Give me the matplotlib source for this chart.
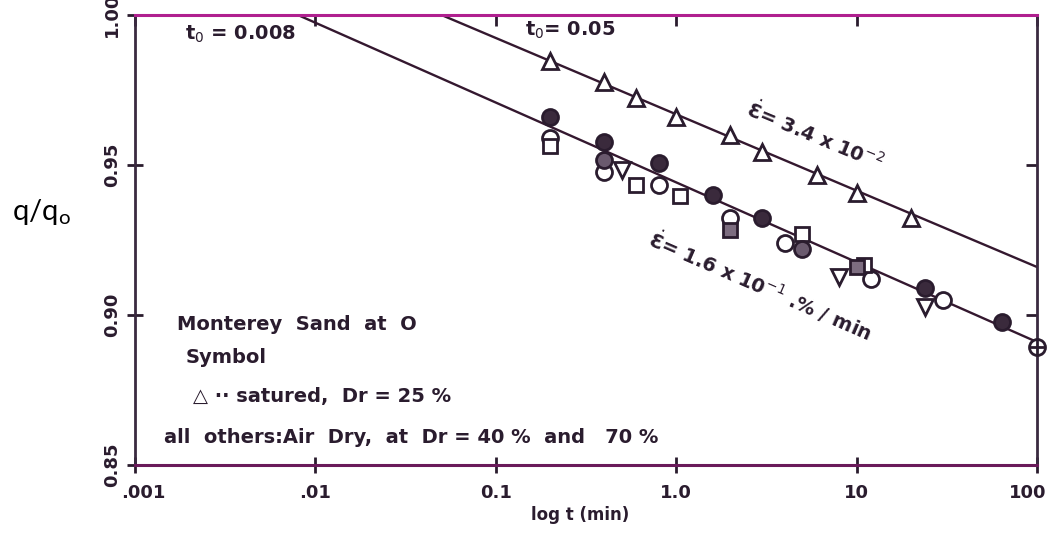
import numpy as np
import matplotlib
matplotlib.use("Agg")
import matplotlib.pyplot as plt
import matplotlib.transforms as mtransforms

# creep test results, q/qo against time (min)
# saturated sample, upper line
tri_sat_t = [0.2, 0.4, 0.6, 1.0, 2.0, 3.0, 6.0, 10.0, 20.0]
tri_sat_q = [0.9847, 0.9777, 0.9723, 0.966, 0.960, 0.9543, 0.9467, 0.9407, 0.9323]

# air dry samples, lower line
filled_t = [0.2, 0.4, 0.8, 1.6, 3.0, 24.0, 64.0]
filled_q = [0.966, 0.9577, 0.9507, 0.940, 0.9323, 0.909, 0.8977]
open_t = [0.2, 0.4, 0.8, 2.0, 4.0, 12.0, 30.0]
open_q = [0.959, 0.9477, 0.9433, 0.9323, 0.924, 0.912, 0.905]
sq_t = [0.2, 0.6, 1.05, 5.0, 11.0]
sq_q = [0.9563, 0.9433, 0.9397, 0.927, 0.9167]
xsq_t = [2.0, 10.0]
xsq_q = [0.9283, 0.916]
inv_t = [0.5, 8.0, 24.0]
inv_q = [0.9483, 0.9127, 0.9027]
dot_t = [0.4, 5.0]
dot_q = [0.9517, 0.922]
cross_t = [100.0]
cross_q = [0.8893]

# fitted lines (start at t0 where q/qo = 1)
upper_t = [0.05, 100.0]
upper_q = [1.0, 0.916]
lower_t = [0.008, 100.0]
lower_q = [1.0, 0.891]

xticks = [0.001, 0.01, 0.1, 1.0, 10.0, 100.0]
xlabels = [".001", ".01", "0.1", "1.0", "10", "100"]
yticks = [0.85, 0.90, 0.95, 1.00]
ylabels = ["0.85", "0.90", "0.95", "1.00"]

ink = "#2a1c2e"
line_c = "#34182f"

fig = plt.figure(figsize=(10.52, 5.39), dpi=100)
ax = fig.add_axes([0.1283, 0.1373, 0.8574, 0.8349])
ax.set_xscale("log")
ax.set_xlim(0.001, 100)
ax.set_ylim(0.85, 1.00)

ax.plot(upper_t, upper_q, color=line_c, lw=1.7, zorder=2)
ax.plot(lower_t, lower_q, color=line_c, lw=1.7, zorder=2)

mk = dict(linestyle="none", markeredgewidth=2.0, markeredgecolor=ink, zorder=3, clip_on=False)
ax.plot(tri_sat_t, tri_sat_q, marker="^", ms=12, mfc="white", **mk)
ax.plot(open_t, open_q, marker="o", ms=11.5, mfc="white", **mk)
ax.plot(sq_t, sq_q, marker="s", ms=10.5, mfc="white", **mk)
ax.plot(inv_t, inv_q, marker="v", ms=11.5, mfc="white", **mk)
ax.plot(xsq_t, xsq_q, marker="s", ms=10.5, mfc="#7d6d80", **mk)
ax.plot(dot_t, dot_q, marker="o", ms=11.5, mfc="#6a5a6e", **mk)
ax.plot(filled_t, filled_q, marker="o", ms=11.5, mfc="#3a2a3c", **mk)
ax.plot(cross_t, cross_q, marker="o", ms=11.5, mfc="white", **mk)
ax.plot(cross_t, cross_q, marker="+", ms=11.5, **mk)

# frame
for side in ["left", "right"]:
    ax.spines[side].set_color("#3a2a40")
    ax.spines[side].set_linewidth(2.0)
ax.spines["top"].set_color("#b0208f")
ax.spines["top"].set_linewidth(2.2)
ax.spines["bottom"].set_color("#6a1a5a")
ax.spines["bottom"].set_linewidth(2.2)

ax.set_xticks(xticks)
ax.set_xticklabels(xlabels)
ax.xaxis.set_minor_locator(matplotlib.ticker.NullLocator())
ax.set_yticks(yticks)
ax.set_yticklabels(ylabels, rotation=90, va="center")
ax.tick_params(axis="x", direction="inout", length=12, width=2, color=ink,
               labelsize=13, pad=8, labelcolor=ink)
ax.tick_params(axis="y", direction="inout", length=12, width=2, color=ink,
               labelsize=13, pad=4, labelcolor=ink)
for lab in ax.get_xticklabels() + ax.get_yticklabels():
    lab.set_fontweight("bold")
# pull the end labels in a little
ax.get_xticklabels()[0].set_transform(ax.get_xticklabels()[0].get_transform() +
                                      mtransforms.ScaledTranslation(6 / 72, 0, fig.dpi_scale_trans))
ax.get_xticklabels()[-1].set_transform(ax.get_xticklabels()[-1].get_transform() +
                                       mtransforms.ScaledTranslation(-7 / 72, 0, fig.dpi_scale_trans))

# inward ticks on top and right
top = ax.secondary_xaxis("top")
top.set_xticks(xticks)
top.xaxis.set_minor_locator(matplotlib.ticker.NullLocator())
top.tick_params(direction="in", length=8, width=2, color=ink, labeltop=False)
top.spines["top"].set_visible(False)
right = ax.secondary_yaxis("right")
right.set_yticks([0.90, 0.95])
right.tick_params(direction="in", length=8, width=2, color=ink, labelright=False)
right.spines["right"].set_visible(False)

fig.text(0.505, 0.035, "log t (min)", fontsize=12, fontweight="bold", color=ink)
fig.text(0.011, 0.592, r"q/q$_{\mathregular{o}}$", fontsize=21, family="Lato", color="black")

# annotations
ax.text(0.0019, 0.9935, r"t$_0$ = 0.008", fontsize=14, fontweight="bold", color=ink, va="center")
ax.text(0.145, 0.995, r"t$_0$= 0.05", fontsize=14, fontweight="bold", color=ink, va="center")
ax.text(2.5, 0.969, r"$\dot{\mathbf{Ɛ}}$= 3.4 x 10$^{-2}$", fontsize=14, fontweight="bold",
        color=ink, rotation=-22.5, rotation_mode="anchor", va="center", ha="left")
ax.text(0.72, 0.926, r"$\dot{\mathbf{Ɛ}}$= 1.6 x 10$^{-1}$ .% / min", fontsize=14, fontweight="bold",
        color=ink, rotation=-23.5, rotation_mode="anchor", va="center", ha="left")

legend_lines = [
    (0.0017, 0.8967, "Monterey  Sand  at  O"),
    (0.0019, 0.8857, "Symbol"),
    (0.0021, 0.8727, "△ ·· satured,  Dr = 25 %"),
    (0.00145, 0.8593, "all  others:Air  Dry,  at  Dr = 40 %  and   70 %"),
]
for tx, ty, s in legend_lines:
    ax.text(tx, ty, s, fontsize=14, fontweight="bold", color=ink, va="center")

fig.savefig("out.png", dpi=100)
